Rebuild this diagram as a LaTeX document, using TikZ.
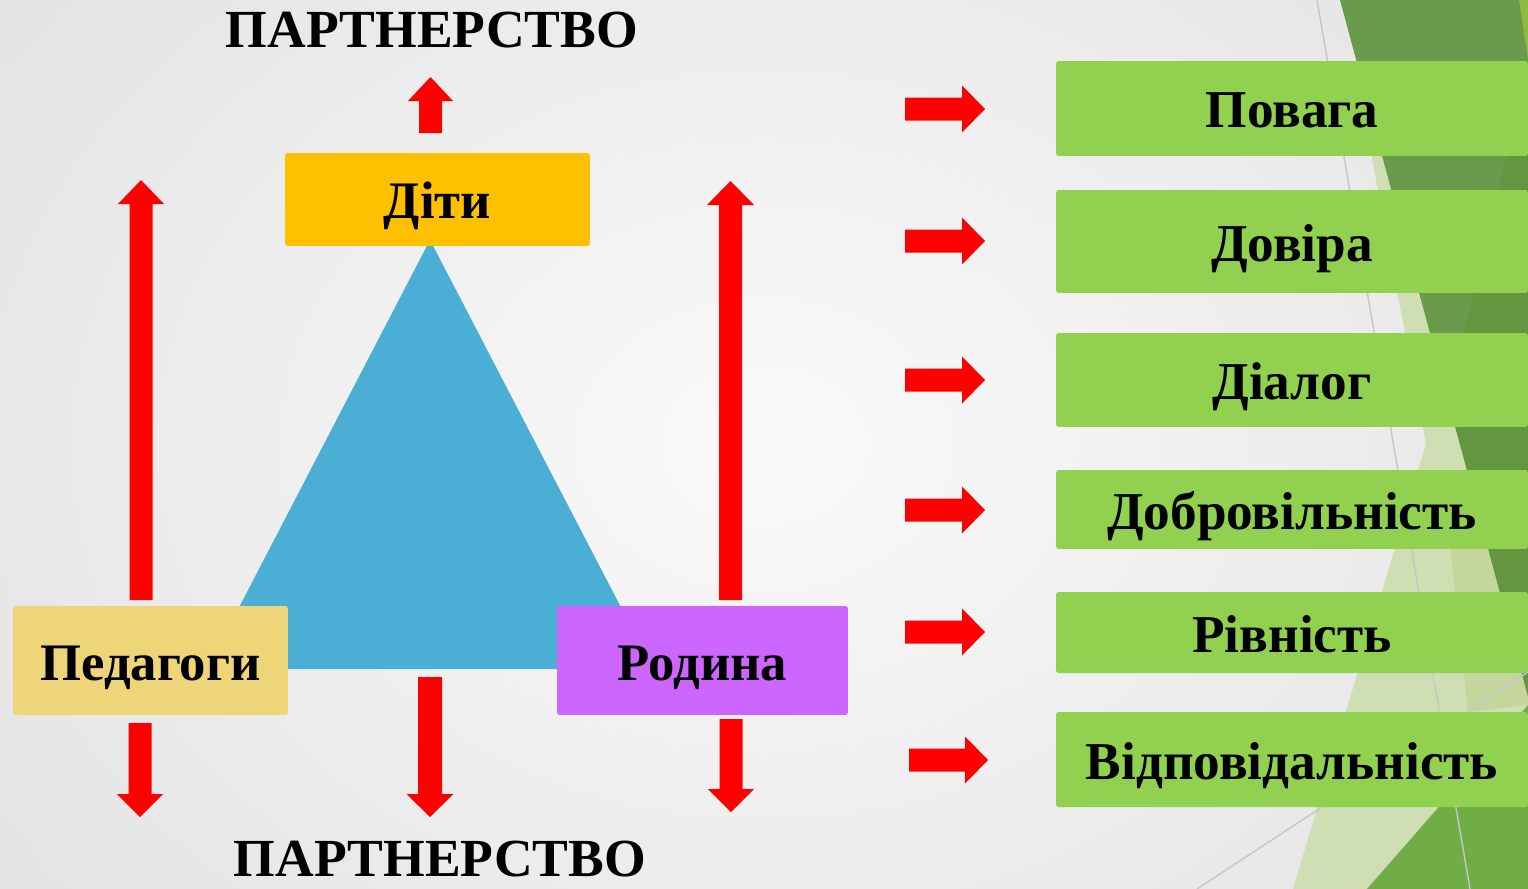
\documentclass[tikz,border=0pt]{standalone}
\usepackage{fontspec}
\setmainfont{Liberation Serif}
\definecolor{bgin}{HTML}{FAFAFA}
\definecolor{bgout}{HTML}{E3E3E3}
\definecolor{darkg}{HTML}{6A9A4B}
\definecolor{darkg2}{HTML}{64963F}
\definecolor{paleg}{HTML}{CFDFB3}
\definecolor{paleg2}{HTML}{C4D69B}
\definecolor{midg}{HTML}{71AD46}
\definecolor{chartg}{HTML}{8DBB3C}
\definecolor{boxgreen}{HTML}{92D050}
\definecolor{childc}{HTML}{FFC000}
\definecolor{teachc}{HTML}{EED57A}
\definecolor{familyc}{HTML}{CC66FF}
\definecolor{trianglec}{HTML}{4BAFD5}
\definecolor{arrowred}{HTML}{FF0000}
\definecolor{facetline}{HTML}{C6C6C6}
\newcommand{\uparrowshape}[5]{% center x, tail y, tip y, shaft half, head half
  \fill[arrowred] (#1-#4,#2) -- (#1-#4,#3+24) -- (#1-#5,#3+24) -- (#1,#3) -- (#1+#5,#3+24) -- (#1+#4,#3+24) -- (#1+#4,#2) -- cycle;}
\newcommand{\downarrowshape}[5]{% center x, tail y, tip y, shaft half, head half
  \fill[arrowred] (#1-#4,#2) -- (#1-#4,#3-23) -- (#1-#5,#3-23) -- (#1,#3) -- (#1+#5,#3-23) -- (#1+#4,#3-23) -- (#1+#4,#2) -- cycle;}
\newcommand{\rightarrowshape}[3]{% tail x, center y, tip x
  \fill[arrowred] (#1,#2-11.5) -- (#3-23,#2-11.5) -- (#3-23,#2-23.5) -- (#3,#2) -- (#3-23,#2+23.5) -- (#3-23,#2+11.5) -- (#1,#2+11.5) -- cycle;}
\begin{document}
\begin{tikzpicture}[x=0.02cm,y=-0.02cm,
  labelbox/.style={rectangle, rounded corners=1.5pt, inner sep=0pt, text height=0.78cm, text depth=0pt,
    font=\bfseries\fontsize{30}{34}\selectfont, text=black},
  greenbox/.style={labelbox, fill=boxgreen, minimum width=9.44cm, font=\bfseries\fontsize{30.3}{34}\selectfont},
  titletext/.style={font=\bfseries\fontsize{30.5}{34}\selectfont, anchor=base, inner sep=0pt}]
\useasboundingbox (0,0) rectangle (1528,889);
\shade[inner color=bgin, outer color=bgout] (-200,-300) rectangle (1728,1189);
% facet background
\fill[paleg] (1360,95) -- (1426,444) -- (1293,889) -- (1528,889) -- (1528,0) -- cycle;
\fill[paleg2] (1443,480) -- (1468,712) -- (1528,705) -- (1528,480) -- cycle;
\fill[darkg] (1340,0) -- (1528,0) -- (1528,696) -- cycle;
\fill[darkg2] (1528,67) -- (1448,400) -- (1528,696) -- cycle;
\fill[chartg] (1519,0) -- (1528,0) -- (1528,60) -- cycle;
\fill[midg] (1367,889) -- (1528,705) -- (1528,889) -- cycle;
\draw[facetline, line width=0.8pt] (1317,0) -- (1470,889);
\draw[facetline, line width=0.8pt] (1197,889) -- (1528,672);
% triangle
\fill[trianglec] (430,240) -- (653,669) -- (207,669) -- cycle;
% boxes
\node[labelbox, fill=childc, minimum width=6.1cm, minimum height=1.86cm] (children) at (437.5,199.5) {Діти};
\node[labelbox, fill=teachc, minimum width=5.5cm, minimum height=2.18cm] (teachers) at (150.5,660.5) {Педагоги};
\node[labelbox, fill=familyc, minimum width=5.82cm, minimum height=2.18cm] (family) at (702.5,660.5) {Родина};
% titles
\node[titletext] (toptitle) at (432,47) {ПАРТНЕРСТВО};
\node[titletext] (bottomtitle) at (440,876) {ПАРТНЕРСТВО};
% green boxes
\node[greenbox, minimum height=1.90cm] (respect) at (1292,108.5) {Повага};
\node[greenbox, minimum height=2.06cm] (trust) at (1292,241.5) {Довіра};
\node[greenbox, minimum height=1.88cm] (dialog) at (1292,380) {Діалог};
\node[greenbox, minimum height=1.58cm] (voluntary) at (1292,509.5) {Добровільність};
\node[greenbox, minimum height=1.62cm] (equality) at (1292,632.5) {Рівність};
\node[greenbox, minimum height=1.90cm] (responsibility) at (1292,759.5) {Відповідальність};
% red vertical arrows
\uparrowshape{141}{600}{180}{11.5}{23}
\uparrowshape{730.5}{600}{181}{11.5}{23.5}
\uparrowshape{430.5}{133}{77}{11.5}{22.5}
\downarrowshape{140}{723}{817}{11.5}{23}
\downarrowshape{430}{677}{817}{12}{23.5}
\downarrowshape{731}{719}{812}{11.5}{23}
% red horizontal arrows
\rightarrowshape{905}{109}{985}
\rightarrowshape{905}{241}{985}
\rightarrowshape{905}{380}{985}
\rightarrowshape{905}{510}{985}
\rightarrowshape{905}{632}{985}
\rightarrowshape{909}{760}{988}
\end{tikzpicture}
\end{document}
